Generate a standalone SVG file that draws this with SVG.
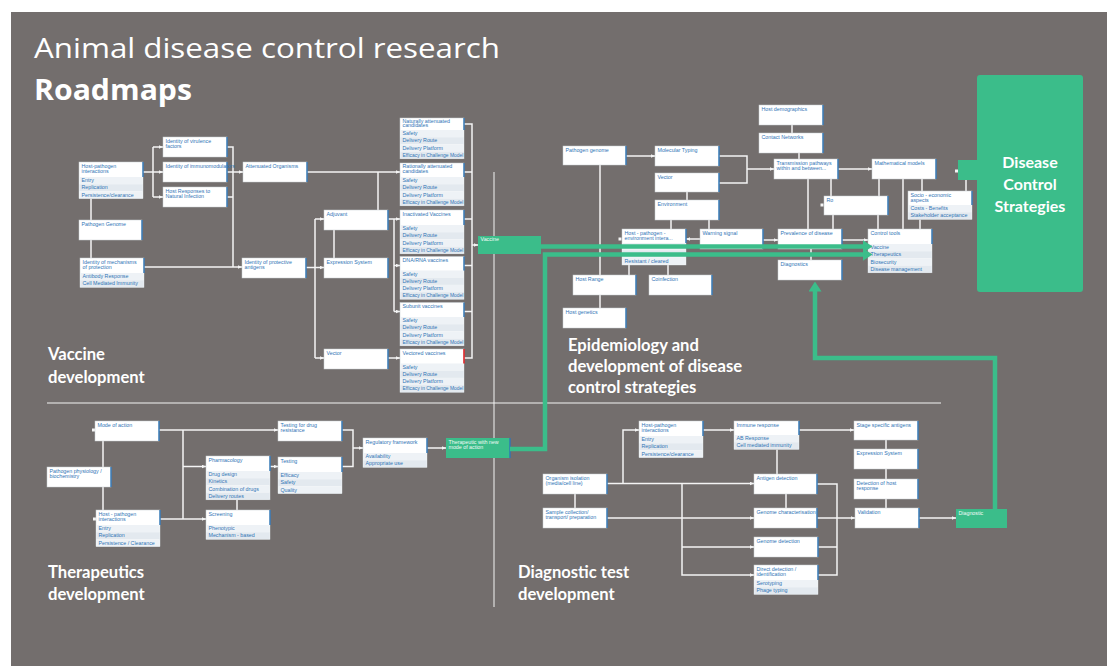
<svg xmlns="http://www.w3.org/2000/svg" width="1107" height="666" viewBox="0 0 1107 666">
<defs>
<style>
.bx{fill:#fff;stroke:#c8cdd2;stroke-width:.5}
.ra{fill:#eef2f6}
.rc{fill:#e3e9ef}
.rb{stroke:#2e75b6;stroke-width:1.4}
.rr{stroke:#e0262a;stroke-width:1.6}
.t{font-family:"Liberation Sans",Arial,sans-serif;font-size:5.3px;fill:#2f74b5}
.t.ef{font-size:4.95px}
.tw{font-family:"Liberation Sans",Arial,sans-serif;font-size:5.3px;fill:#f2fbf7}
.gb{fill:#3bbd8a}
.c path{fill:none;stroke:#f4f4f4;stroke-width:1.5}
.c .a{marker-end:url(#ah)}
.g path{fill:none;stroke:#3bbd8a;stroke-width:4.5;marker-end:url(#gh)}
.hd{font-family:"Open Sans","Liberation Sans",sans-serif;fill:#fff}
.sec{font-family:Lato,"Open Sans",sans-serif;font-weight:bold;font-size:16.6px;fill:#fff}
.tick{fill:#f4f4f4}
</style>
<marker id="ah" viewBox="0 0 4 4" refX="4" refY="2" markerWidth="4" markerHeight="4" markerUnits="userSpaceOnUse" orient="auto"><path d="M0,0.3L4,2L0,3.7z" fill="#f4f4f4"/></marker>
<marker id="gh" viewBox="0 0 10 13" refX="0.5" refY="6.5" markerWidth="10" markerHeight="13" markerUnits="userSpaceOnUse" orient="auto"><path d="M0,0L10,6.5L0,13z" fill="#3bbd8a"/></marker>
</defs>

<!-- page -->
<rect x="0" y="0" width="1107" height="666" fill="#fff"/>
<rect x="11" y="12" width="1096" height="654" fill="#736e6d"/>

<!-- heading -->
<text class="hd" x="34" y="57.5" font-size="28" textLength="466" lengthAdjust="spacingAndGlyphs">Animal disease control research</text>
<text class="hd" x="34" y="100" font-size="28" font-weight="bold" textLength="158" lengthAdjust="spacingAndGlyphs">Roadmaps</text>

<!-- quadrant dividers -->
<g id="dividers" stroke="#f4f4f4" stroke-width="1">
<line x1="47" y1="403" x2="941" y2="403"/>
<line x1="494" y1="172" x2="494" y2="607"/>
</g>

<!-- section labels -->
<g id="labels">
<text class="sec" x="48" y="360">Vaccine</text>
<text class="sec" x="48" y="383">development</text>
<text class="sec" x="568" y="351">Epidemiology and</text>
<text class="sec" x="568" y="372">development of disease</text>
<text class="sec" x="568" y="393">control strategies</text>
<text class="sec" x="48" y="578">Therapeutics</text>
<text class="sec" x="48" y="600">development</text>
<text class="sec" x="518" y="578">Diagnostic test</text>
<text class="sec" x="518" y="600">development</text>
</g>

<!-- connectors -->
<g id="connectors" class="c">
<!-- vaccine -->
<path d="M143,172H153"/>
<path d="M153,147V197"/>
<path class="a" d="M153,147H163"/>
<path class="a" d="M153,172H163"/>
<path class="a" d="M153,197H163"/>
<path d="M227,147H233V267"/>
<path class="a" d="M227,172H243"/>
<path d="M227,197H233"/>
<path class="a" d="M144,267H242"/>
<path d="M91,198.6V220"/>
<path d="M91,240V258"/>
<path class="a" d="M307,172H400"/>
<path d="M378,172V210"/>
<path class="a" d="M306,267.5H324"/>
<path d="M315,219V358"/>
<path class="a" d="M315,219H324"/>
<path class="a" d="M315,358H324"/>
<path d="M334,230V258"/>
<path class="a" d="M388,219H400"/>
<path d="M394,219V311.5"/>
<path class="a" d="M394,265.5H400"/>
<path class="a" d="M394,311.5H400"/>
<path class="a" d="M388,358H400"/>
<path d="M464,124H472V358H464"/>
<path d="M464,172H472"/>
<path d="M464,219H472"/>
<path d="M464,265.5H472"/>
<path d="M464,311.5H472"/>
<path class="a" d="M472,245H478"/>
<!-- epidemiology -->
<path class="a" d="M626,156H655"/>
<path d="M600,165V275"/>
<path d="M600,295V308"/>
<path d="M719,156H747V183H719"/>
<path class="a" d="M747,169H774"/>
<path d="M687,192V200"/>
<path d="M671,220V229"/>
<path d="M709,220V229"/>
<path class="a" d="M700,239H686"/>
<path d="M629,264.6V275"/>
<path d="M668,264.6V275"/>
<path d="M792,125V133"/>
<path d="M799,153V159"/>
<path class="a" d="M838,169H872"/>
<path d="M808,179V229"/>
<path d="M831,179V196"/>
<path d="M833,215V229"/>
<path d="M879,179V196"/>
<path d="M878,215V229"/>
<path d="M903,179V229"/>
<path d="M922,179V191"/>
<path d="M920,219.4V229"/>
<path class="a" d="M763,240H778"/>
<path class="a" d="M842,240H868"/>
<path d="M811,249V260"/>
<path d="M966,180V191"/>
<!-- therapeutics -->
<path d="M103,441V467"/>
<path d="M103,487V510"/>
<path class="a" d="M159,430H278"/>
<path d="M183,430V519"/>
<path class="a" d="M160,519H206"/>
<path class="a" d="M183,466.5H206"/>
<path d="M237,499.8V510"/>
<path class="a" d="M270,466.5H278"/>
<path d="M342,430H353V466.5H342"/>
<path class="a" d="M353,448H363"/>
<path class="a" d="M427,448H446"/>
<!-- diagnostics -->
<path class="a" d="M607,483.5H754"/>
<path class="a" d="M623,483.5V430H639"/>
<path class="a" d="M703,430H734"/>
<path d="M777,449.4V474"/>
<path d="M575,494V508"/>
<path class="a" d="M607,518H754"/>
<path class="a" d="M682,483.5V575H754"/>
<path class="a" d="M682,547H754"/>
<path d="M786,494V508"/>
<path d="M817,484H837V575H818"/>
<path class="a" d="M817,518H855"/>
<path d="M818,547H837"/>
<path class="a" d="M799,430H854"/>
<path d="M886,440V449"/>
<path d="M886,469V479"/>
<path d="M886,499V508"/>
<path class="a" d="M919,518H956"/>
<!-- end stubs -->
<rect class="tick" x="820.5" y="203.5" width="3" height="3"/>
<rect class="tick" x="618.5" y="237.5" width="3" height="3"/>
<rect class="tick" x="955" y="169.5" width="3" height="3"/>
<rect class="tick" x="92" y="428.5" width="3" height="3"/>
<rect class="tick" x="93" y="517.5" width="3" height="3"/>
</g>

<!-- ===== Vaccine development ===== -->
<g id="v-host-pathogen">
<rect class="bx" x="79" y="162" width="64" height="36.6"/>
<rect class="ra" x="79.3" y="177" width="63.4" height="7.2"/><rect class="rc" x="79.3" y="184.2" width="63.4" height="7.2"/><rect class="ra" x="79.3" y="191.4" width="63.4" height="7"/>
<line class="rb" x1="143" y1="162" x2="143" y2="177"/>
<text class="t" x="81.5" y="167.8">Host-pathogen</text><text class="t" x="81.5" y="172.5">interactions</text>
<text class="t" x="81.5" y="182.2">Entry</text><text class="t" x="81.5" y="189.4">Replication</text><text class="t" x="81.5" y="196.6">Persistence/clearance</text>
</g>
<g id="v-virulence"><rect class="bx" x="163" y="137" width="64" height="20"/><line class="rb" x1="227" y1="137" x2="227" y2="157"/><text class="t" x="165.5" y="142.8">Identity of virulence</text><text class="t" x="165.5" y="147.5">factors</text></g>
<g id="v-immuno"><rect class="bx" x="163" y="162" width="64" height="20"/><line class="rb" x1="227" y1="162" x2="227" y2="182"/><text class="t" x="165.5" y="167.8">Identity of immunomodulators</text></g>
<g id="v-host-responses"><rect class="bx" x="163" y="187" width="64" height="20"/><line class="rb" x1="227" y1="187" x2="227" y2="207"/><text class="t" x="165.5" y="192.8">Host Responses to</text><text class="t" x="165.5" y="197.5">Natural Infection</text></g>
<g id="v-attenuated"><rect class="bx" x="243" y="162" width="64" height="20"/><line class="rb" x1="307" y1="162" x2="307" y2="182"/><text class="t" x="245.5" y="167.8">Attenuated Organisms</text></g>
<g id="v-genome"><rect class="bx" x="79" y="220" width="63" height="20"/><line class="rb" x1="142" y1="220" x2="142" y2="240"/><text class="t" x="81.5" y="225.8">Pathogen Genome</text></g>
<g id="v-mechanisms">
<rect class="bx" x="80" y="258" width="64" height="29.4"/>
<rect class="ra" x="80.3" y="273" width="63.4" height="7.2"/><rect class="rc" x="80.3" y="280.2" width="63.4" height="7"/>
<line class="rb" x1="144" y1="258" x2="144" y2="273"/>
<text class="t" x="82.5" y="263.8">Identity of mechanisms</text><text class="t" x="82.5" y="268.5">of protection</text>
<text class="t" x="82.5" y="278.2">Antibody Response</text><text class="t" x="82.5" y="285.4">Cell Mediated Immunity</text>
</g>
<g id="v-antigens"><rect class="bx" x="242" y="258" width="64" height="20"/><line class="rb" x1="306" y1="258" x2="306" y2="278"/><text class="t" x="244.5" y="263.8">Identity of protective</text><text class="t" x="244.5" y="268.5">antigens</text></g>
<g id="v-adjuvant"><rect class="bx" x="324" y="210" width="64" height="20"/><line class="rb" x1="388" y1="210" x2="388" y2="230"/><text class="t" x="326.5" y="215.8">Adjuvant</text></g>
<g id="v-expression"><rect class="bx" x="324" y="258" width="64" height="20"/><line class="rb" x1="388" y1="258" x2="388" y2="278"/><text class="t" x="326.5" y="263.8">Expression System</text></g>
<g id="v-vector"><rect class="bx" x="324" y="349" width="64" height="20"/><line class="rb" x1="388" y1="349" x2="388" y2="369"/><text class="t" x="326.5" y="354.8">Vector</text></g>

<g id="v-natural">
<rect class="bx" x="400" y="118" width="64" height="40.8"/>
<rect class="ra" x="400.3" y="130" width="63.4" height="7.2"/><rect class="rc" x="400.3" y="137.2" width="63.4" height="7.2"/><rect class="ra" x="400.3" y="144.4" width="63.4" height="7.2"/><rect class="rc" x="400.3" y="151.6" width="63.4" height="7"/>
<line class="rb" x1="464" y1="118" x2="464" y2="130"/>
<text class="t" x="402.5" y="122.6">Naturally attenuated</text><text class="t" x="402.5" y="126.9">candidates</text>
<text class="t" x="402.5" y="135.2">Safety</text><text class="t" x="402.5" y="142.4">Delivery Route</text><text class="t" x="402.5" y="149.6">Delivery Platform</text><text class="t ef" x="402.5" y="156.8">Efficacy in Challenge Model</text>
</g>
<g id="v-rational">
<rect class="bx" x="400" y="163" width="64" height="42.8"/>
<rect class="ra" x="400.3" y="177" width="63.4" height="7.2"/><rect class="rc" x="400.3" y="184.2" width="63.4" height="7.2"/><rect class="ra" x="400.3" y="191.4" width="63.4" height="7.2"/><rect class="rc" x="400.3" y="198.6" width="63.4" height="7"/>
<line class="rb" x1="464" y1="163" x2="464" y2="177"/>
<text class="t" x="402.5" y="168.2">Rationally attenuated</text><text class="t" x="402.5" y="172.5">candidates</text>
<text class="t" x="402.5" y="182.2">Safety</text><text class="t" x="402.5" y="189.4">Delivery Route</text><text class="t" x="402.5" y="196.6">Delivery Platform</text><text class="t ef" x="402.5" y="203.8">Efficacy in Challenge Model</text>
</g>
<g id="v-inactivated">
<rect class="bx" x="400" y="210" width="64" height="43.8"/>
<rect class="ra" x="400.3" y="225" width="63.4" height="7.2"/><rect class="rc" x="400.3" y="232.2" width="63.4" height="7.2"/><rect class="ra" x="400.3" y="239.4" width="63.4" height="7.2"/><rect class="rc" x="400.3" y="246.6" width="63.4" height="7"/>
<line class="rb" x1="464" y1="210" x2="464" y2="225"/>
<text class="t" x="402.5" y="215.8">Inactivated Vaccines</text>
<text class="t" x="402.5" y="230.2">Safety</text><text class="t" x="402.5" y="237.4">Delivery Route</text><text class="t" x="402.5" y="244.6">Delivery Platform</text><text class="t ef" x="402.5" y="251.8">Efficacy in Challenge Model</text>
</g>
<g id="v-dna-rna">
<rect class="bx" x="400" y="256.5" width="64" height="42.8"/>
<rect class="ra" x="400.3" y="270.5" width="63.4" height="7.2"/><rect class="rc" x="400.3" y="277.7" width="63.4" height="7.2"/><rect class="ra" x="400.3" y="284.9" width="63.4" height="7.2"/><rect class="rc" x="400.3" y="292.1" width="63.4" height="7"/>
<line class="rb" x1="464" y1="256.5" x2="464" y2="270.5"/>
<text class="t" x="402.5" y="262.3">DNA/RNA vaccines</text>
<text class="t" x="402.5" y="275.7">Safety</text><text class="t" x="402.5" y="282.9">Delivery Route</text><text class="t" x="402.5" y="290.1">Delivery Platform</text><text class="t ef" x="402.5" y="297.3">Efficacy in Challenge Model</text>
</g>
<g id="v-subunit">
<rect class="bx" x="400" y="302.5" width="64" height="43.3"/>
<rect class="ra" x="400.3" y="317" width="63.4" height="7.2"/><rect class="rc" x="400.3" y="324.2" width="63.4" height="7.2"/><rect class="ra" x="400.3" y="331.4" width="63.4" height="7.2"/><rect class="rc" x="400.3" y="338.6" width="63.4" height="7"/>
<line class="rb" x1="464" y1="302.5" x2="464" y2="317"/>
<text class="t" x="402.5" y="308.3">Subunit vaccines</text>
<text class="t" x="402.5" y="322.2">Safety</text><text class="t" x="402.5" y="329.4">Delivery Route</text><text class="t" x="402.5" y="336.6">Delivery Platform</text><text class="t ef" x="402.5" y="343.8">Efficacy in Challenge Model</text>
</g>
<g id="v-vectored">
<rect class="bx" x="400" y="349" width="64" height="43.3"/>
<rect class="ra" x="400.3" y="363.5" width="63.4" height="7.2"/><rect class="rc" x="400.3" y="370.7" width="63.4" height="7.2"/><rect class="ra" x="400.3" y="377.9" width="63.4" height="7.2"/><rect class="rc" x="400.3" y="385.1" width="63.4" height="7"/>
<line class="rr" x1="464" y1="349" x2="464" y2="363.5"/>
<text class="t" x="402.5" y="354.8">Vectored vaccines</text>
<text class="t" x="402.5" y="368.7">Safety</text><text class="t" x="402.5" y="375.9">Delivery Route</text><text class="t" x="402.5" y="383.1">Delivery Platform</text><text class="t ef" x="402.5" y="390.3">Efficacy in Challenge Model</text>
</g>
<g id="vaccine-output"><rect class="gb" x="478" y="236" width="63" height="18"/><text class="tw" x="480.5" y="241.3">Vaccine</text></g>

<!-- ===== Epidemiology ===== -->
<g id="e-genome"><rect class="bx" x="563" y="146" width="63" height="19"/><line class="rb" x1="626" y1="146" x2="626" y2="165"/><text class="t" x="565.5" y="151.8">Pathogen genome</text></g>
<g id="e-typing"><rect class="bx" x="655" y="146" width="64" height="20"/><line class="rb" x1="719" y1="146" x2="719" y2="166"/><text class="t" x="657.5" y="151.8">Molecular Typing</text></g>
<g id="e-vector"><rect class="bx" x="655" y="173" width="64" height="19"/><line class="rb" x1="719" y1="173" x2="719" y2="192"/><text class="t" x="657.5" y="178.8">Vector</text></g>
<g id="e-environment"><rect class="bx" x="655" y="200" width="64" height="20"/><line class="rb" x1="719" y1="200" x2="719" y2="220"/><text class="t" x="657.5" y="205.8">Environment</text></g>
<g id="e-hpe">
<rect class="bx" x="622" y="229" width="64" height="36"/>
<rect class="ra" x="622.3" y="243" width="63.4" height="7.2"/><rect class="rc" x="622.3" y="250.2" width="63.4" height="7.2"/><rect class="ra" x="622.3" y="257.4" width="63.4" height="7.3"/>
<line class="rb" x1="686" y1="229" x2="686" y2="243"/>
<text class="t" x="624.5" y="234.8">Host - pathogen -</text><text class="t" x="624.5" y="239.5">environment intera...</text>
<text class="t" x="624.5" y="262.6">Resistant / cleared</text>
</g>
<g id="e-warning"><rect class="bx" x="700" y="229" width="63" height="20"/><line class="rb" x1="763" y1="229" x2="763" y2="249"/><text class="t" x="702.5" y="234.8">Warning signal</text></g>
<g id="e-host-range"><rect class="bx" x="573" y="275" width="63" height="20"/><line class="rb" x1="636" y1="275" x2="636" y2="295"/><text class="t" x="575.5" y="280.8">Host Range</text></g>
<g id="e-coinfection"><rect class="bx" x="649" y="275" width="63" height="20"/><line class="rb" x1="712" y1="275" x2="712" y2="295"/><text class="t" x="651.5" y="280.8">Coinfection</text></g>
<g id="e-host-genetics"><rect class="bx" x="563" y="308" width="63" height="20"/><line class="rb" x1="626" y1="308" x2="626" y2="328"/><text class="t" x="565.5" y="313.8">Host genetics</text></g>
<g id="e-demographics"><rect class="bx" x="759" y="105" width="64" height="20"/><line class="rb" x1="823" y1="105" x2="823" y2="125"/><text class="t" x="761.5" y="110.8">Host demographics</text></g>
<g id="e-contact"><rect class="bx" x="759" y="133" width="64" height="20"/><line class="rb" x1="823" y1="133" x2="823" y2="153"/><text class="t" x="761.5" y="138.8">Contact Networks</text></g>
<g id="e-transmission"><rect class="bx" x="774" y="159" width="64" height="20"/><line class="rb" x1="838" y1="159" x2="838" y2="179"/><text class="t" x="776.5" y="164.8">Transmission pathways</text><text class="t" x="776.5" y="169.5">within and between...</text></g>
<g id="e-math"><rect class="bx" x="872" y="159" width="64" height="20"/><line class="rb" x1="936" y1="159" x2="936" y2="179"/><text class="t" x="874.5" y="164.8">Mathematical models</text></g>
<g id="e-ro"><rect class="bx" x="824" y="196" width="64" height="19"/><line class="rb" x1="888" y1="196" x2="888" y2="215"/><text class="t" x="826.5" y="201.8">Ro</text></g>
<g id="e-socio">
<rect class="bx" x="908" y="191" width="64" height="28.4"/>
<rect class="ra" x="908.3" y="205" width="63.4" height="7.2"/><rect class="rc" x="908.3" y="212.2" width="63.4" height="7"/>
<line class="rb" x1="972" y1="191" x2="972" y2="205"/>
<text class="t" x="910.5" y="196.8">Socio - economic</text><text class="t" x="910.5" y="201.5">aspects</text>
<text class="t" x="910.5" y="210.2">Costs - Benefits</text><text class="t" x="910.5" y="217.4">Stakeholder acceptance</text>
</g>
<g id="e-prevalence"><rect class="bx" x="778" y="229" width="64" height="20"/><line class="rb" x1="842" y1="229" x2="842" y2="249"/><text class="t" x="780.5" y="234.8">Prevalence of disease</text></g>
<g id="e-control-tools">
<rect class="bx" x="868" y="229" width="64" height="43.8"/>
<rect class="ra" x="868.3" y="244" width="63.4" height="7.2"/><rect class="rc" x="868.3" y="251.2" width="63.4" height="7.2"/><rect class="ra" x="868.3" y="258.4" width="63.4" height="7.2"/><rect class="rc" x="868.3" y="265.6" width="63.4" height="7"/>
<line class="rb" x1="932" y1="229" x2="932" y2="244"/>
<text class="t" x="870.5" y="234.8">Control tools</text>
<text class="t" x="870.5" y="249.2">Vaccine</text><text class="t" x="870.5" y="256.4">Therapeutics</text><text class="t" x="870.5" y="263.6">Biosecurity</text><text class="t" x="870.5" y="270.8">Disease management</text>
</g>
<g id="e-diagnostics"><rect class="bx" x="778" y="260" width="64" height="20"/><line class="rb" x1="842" y1="260" x2="842" y2="280"/><text class="t" x="780.5" y="265.8">Diagnostics</text></g>
<g id="strategies">
<rect class="gb" x="958" y="160" width="21" height="20"/>
<rect class="gb" x="977" y="75" width="106" height="217" rx="3"/>
<text font-family="Lato,'Open Sans',sans-serif" font-weight="bold" font-size="16" fill="#fff" text-anchor="middle"><tspan x="1030" y="168">Disease</tspan><tspan x="1030" y="190">Control</tspan><tspan x="1030" y="212">Strategies</tspan></text>
</g>

<!-- ===== Therapeutics ===== -->
<g id="t-mode"><rect class="bx" x="95" y="421" width="64" height="20"/><line class="rb" x1="159" y1="421" x2="159" y2="441"/><text class="t" x="97.5" y="426.8">Mode of action</text></g>
<g id="t-physiology"><rect class="bx" x="47" y="467" width="64" height="20"/><line class="rb" x1="111" y1="467" x2="111" y2="487"/><text class="t" x="49.5" y="472.8">Pathogen physiology /</text><text class="t" x="49.5" y="477.5">biochemistry</text></g>
<g id="t-host-pathogen">
<rect class="bx" x="96" y="510" width="64" height="36.6"/>
<rect class="ra" x="96.3" y="525" width="63.4" height="7.2"/><rect class="rc" x="96.3" y="532.2" width="63.4" height="7.2"/><rect class="ra" x="96.3" y="539.4" width="63.4" height="7"/>
<line class="rb" x1="160" y1="510" x2="160" y2="525"/>
<text class="t" x="98.5" y="515.8">Host - pathogen</text><text class="t" x="98.5" y="520.5">interactions</text>
<text class="t" x="98.5" y="530.2">Entry</text><text class="t" x="98.5" y="537.4">Replication</text><text class="t" x="98.5" y="544.6">Persistence / Clearance</text>
</g>
<g id="t-pharmacology">
<rect class="bx" x="206" y="456" width="64" height="43.8"/>
<rect class="ra" x="206.3" y="471" width="63.4" height="7.2"/><rect class="rc" x="206.3" y="478.2" width="63.4" height="7.2"/><rect class="ra" x="206.3" y="485.4" width="63.4" height="7.2"/><rect class="rc" x="206.3" y="492.6" width="63.4" height="7"/>
<line class="rb" x1="270" y1="456" x2="270" y2="471"/>
<text class="t" x="208.5" y="461.8">Pharmacology</text>
<text class="t" x="208.5" y="476.2">Drug design</text><text class="t" x="208.5" y="483.4">Kinetics</text><text class="t" x="208.5" y="490.6">Combination of drugs</text><text class="t" x="208.5" y="497.8">Delivery routes</text>
</g>
<g id="t-screening">
<rect class="bx" x="206" y="510" width="64" height="29.4"/>
<rect class="ra" x="206.3" y="525" width="63.4" height="7.2"/><rect class="rc" x="206.3" y="532.2" width="63.4" height="7"/>
<line class="rb" x1="270" y1="510" x2="270" y2="525"/>
<text class="t" x="208.5" y="515.8">Screening</text>
<text class="t" x="208.5" y="530.2">Phenotypic</text><text class="t" x="208.5" y="537.4">Mechanism - based</text>
</g>
<g id="t-drug-resistance"><rect class="bx" x="278" y="421" width="64" height="20"/><line class="rb" x1="342" y1="421" x2="342" y2="441"/><text class="t" x="280.5" y="426.8">Testing for drug</text><text class="t" x="280.5" y="431.5">resistance</text></g>
<g id="t-testing">
<rect class="bx" x="278" y="457" width="64" height="36.6"/>
<rect class="ra" x="278.3" y="472" width="63.4" height="7.2"/><rect class="rc" x="278.3" y="479.2" width="63.4" height="7.2"/><rect class="ra" x="278.3" y="486.4" width="63.4" height="7"/>
<line class="rb" x1="342" y1="457" x2="342" y2="472"/>
<text class="t" x="280.5" y="462.8">Testing</text>
<text class="t" x="280.5" y="477.2">Efficacy</text><text class="t" x="280.5" y="484.4">Safety</text><text class="t" x="280.5" y="491.6">Quality</text>
</g>
<g id="t-regulatory">
<rect class="bx" x="363" y="438" width="64" height="29.4"/>
<rect class="ra" x="363.3" y="453" width="63.4" height="7.2"/><rect class="rc" x="363.3" y="460.2" width="63.4" height="7"/>
<line class="rb" x1="427" y1="438" x2="427" y2="453"/>
<text class="t" x="365.5" y="443.8">Regulatory framework</text>
<text class="t" x="365.5" y="458.2">Availability</text><text class="t" x="365.5" y="465.4">Appropriate use</text>
</g>
<g id="therapeutic-output"><rect class="gb" x="446" y="438" width="64" height="20"/><line class="rb" x1="510" y1="438" x2="510" y2="458"/><text class="tw" x="448.5" y="443.8">Therapeutic with new</text><text class="tw" x="448.5" y="448.5">mode of action</text></g>

<!-- ===== Diagnostic test ===== -->
<g id="d-host-pathogen">
<rect class="bx" x="639" y="421" width="64" height="36.6"/>
<rect class="ra" x="639.3" y="436" width="63.4" height="7.2"/><rect class="rc" x="639.3" y="443.2" width="63.4" height="7.2"/><rect class="ra" x="639.3" y="450.4" width="63.4" height="7"/>
<line class="rb" x1="703" y1="421" x2="703" y2="436"/>
<text class="t" x="641.5" y="426.8">Host-pathogen</text><text class="t" x="641.5" y="431.5">interactions</text>
<text class="t" x="641.5" y="441.2">Entry</text><text class="t" x="641.5" y="448.4">Replication</text><text class="t" x="641.5" y="455.6">Persistence/clearance</text>
</g>
<g id="d-immune">
<rect class="bx" x="734" y="421" width="65" height="28.4"/>
<rect class="ra" x="734.3" y="435" width="64.4" height="7.2"/><rect class="rc" x="734.3" y="442.2" width="64.4" height="7"/>
<line class="rb" x1="799" y1="421" x2="799" y2="435"/>
<text class="t" x="736.5" y="426.8">Immune response</text>
<text class="t" x="736.5" y="440.2">AB Response</text><text class="t" x="736.5" y="447.4">Cell mediated immunity</text>
</g>
<g id="d-isolation"><rect class="bx" x="543" y="474" width="64" height="20"/><line class="rb" x1="607" y1="474" x2="607" y2="494"/><text class="t" x="545.5" y="479.8">Organism isolation</text><text class="t" x="545.5" y="484.5">(media/cell line)</text></g>
<g id="d-sample"><rect class="bx" x="543" y="508" width="64" height="20"/><line class="rb" x1="607" y1="508" x2="607" y2="528"/><text class="t" x="545.5" y="513.8">Sample collection/</text><text class="t" x="545.5" y="518.5">transport/ preparation</text></g>
<g id="d-antigen"><rect class="bx" x="754" y="474" width="63" height="20"/><line class="rb" x1="817" y1="474" x2="817" y2="494"/><text class="t" x="756.5" y="479.8">Antigen detection</text></g>
<g id="d-genome-char"><rect class="bx" x="754" y="508" width="63" height="20"/><line class="rb" x1="817" y1="508" x2="817" y2="528"/><text class="t" x="756.5" y="513.8">Genome characterisation</text></g>
<g id="d-genome-det"><rect class="bx" x="754" y="537" width="64" height="20"/><line class="rb" x1="818" y1="537" x2="818" y2="557"/><text class="t" x="756.5" y="542.8">Genome detection</text></g>
<g id="d-direct">
<rect class="bx" x="754" y="565" width="64" height="29.4"/>
<rect class="ra" x="754.3" y="580" width="63.4" height="7.2"/><rect class="rc" x="754.3" y="587.2" width="63.4" height="7"/>
<line class="rb" x1="818" y1="565" x2="818" y2="580"/>
<text class="t" x="756.5" y="570.8">Direct detection /</text><text class="t" x="756.5" y="575.5">identification</text>
<text class="t" x="756.5" y="585.2">Serotyping</text><text class="t" x="756.5" y="592.4">Phage typing</text>
</g>
<g id="d-stage"><rect class="bx" x="854" y="421" width="64" height="19"/><line class="rb" x1="918" y1="421" x2="918" y2="440"/><text class="t" x="856.5" y="426.8">Stage specific antigens</text></g>
<g id="d-expression"><rect class="bx" x="854" y="449" width="64" height="20"/><line class="rb" x1="918" y1="449" x2="918" y2="469"/><text class="t" x="856.5" y="454.8">Expression System</text></g>
<g id="d-host-response"><rect class="bx" x="854" y="479" width="64" height="20"/><line class="rb" x1="918" y1="479" x2="918" y2="499"/><text class="t" x="856.5" y="484.8">Detection of host</text><text class="t" x="856.5" y="489.5">response</text></g>
<g id="d-validation"><rect class="bx" x="855" y="508" width="64" height="20"/><line class="rb" x1="919" y1="508" x2="919" y2="528"/><text class="t" x="857.5" y="513.8">Validation</text></g>
<g id="diagnostic-output"><rect class="gb" x="956" y="509" width="51" height="19"/><text class="tw" x="958.5" y="514.5">Diagnostic</text></g>

<!-- outputs feeding the control tools -->
<g id="output-links" class="g">
<path d="M541,246.5H863"/>
<path d="M510,449H545V254.5H863"/>
<path d="M995,509V358H815V291"/>
</g>
</svg>
